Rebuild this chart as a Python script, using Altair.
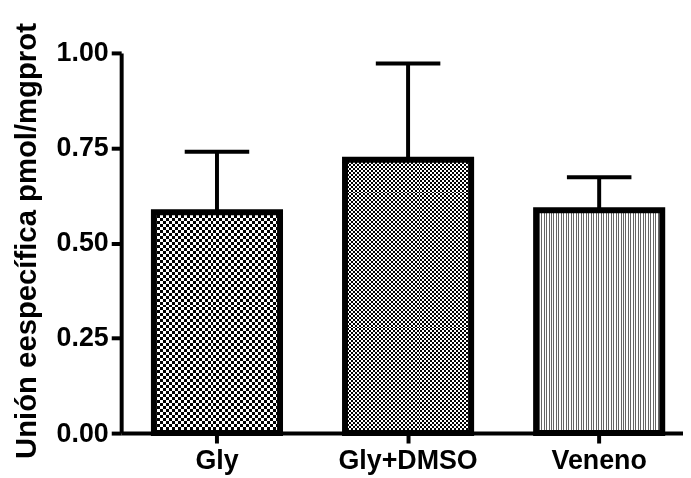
import altair as alt
import pandas as pd

categories = ["Gly", "Gly+DMSO", "Veneno"]
means = [0.581, 0.719, 0.586]
errors = [0.159, 0.253, 0.087]
y_ticks = [0.0, 0.25, 0.5, 0.75, 1.0]

df = pd.DataFrame({"cat": categories, "mean": means, "err": errors})
df["upper"] = df["mean"] + df["err"]

PLOT_W = 566
PLOT_H = 383
BAR_W = 127


def stripes(length_px, dark_px, light_px, dark, light, along):
    period = dark_px + light_px
    stops = []
    pos = 0.0
    while pos < length_px:
        a = pos / length_px
        b = min(pos + dark_px, length_px) / length_px
        c = min(pos + period, length_px) / length_px
        stops += [
            {"offset": a, "color": dark},
            {"offset": b, "color": dark},
            {"offset": b, "color": light},
            {"offset": c, "color": light},
        ]
        pos += period
    g = {"gradient": "linear", "stops": stops}
    if along == "x":
        g.update({"x1": 0, "x2": 1, "y1": 0, "y2": 0})
    else:
        g.update({"x1": 0, "x2": 0, "y1": 0, "y2": 1})
    return g


xenc = alt.X(
    "cat:N",
    sort=categories,
    scale=alt.Scale(paddingInner=0.34, paddingOuter=0.14, align=0.612),
    axis=alt.Axis(title=None, labelAngle=0, labelPadding=5),
)
yenc = alt.Y(
    "mean:Q",
    scale=alt.Scale(domain=[0, 1], nice=False),
    axis=alt.Axis(
        title="Unión eespecífica pmol/mgprot",
        values=y_ticks,
        format=".2f",
        labelPadding=3,
        titleFontSize=29.5,
        titleX=-95,
        titleY=189,
        titleBaseline="middle",
        titleAlign="center",
    ),
)

base = alt.Chart(df)

layers = []
# Gly: coarse checker
h_gly = means[0] * PLOT_H
layers.append(
    base.transform_filter(alt.datum.cat == "Gly")
    .mark_bar(fill=stripes(BAR_W, 3, 3, "#000000", "#ffffff", "x"), strokeWidth=0)
    .encode(x=xenc, y=yenc)
)
layers.append(
    base.transform_filter(alt.datum.cat == "Gly")
    .mark_bar(fill=stripes(h_gly, 3, 3, "#000000", "#ffffff", "y"), strokeWidth=0, blend="difference")
    .encode(x=xenc, y=yenc)
)
# Gly+DMSO: fine checker
h_dm = means[1] * PLOT_H
layers.append(
    base.transform_filter(alt.datum.cat == "Gly+DMSO")
    .mark_bar(fill=stripes(BAR_W, 2, 2, "#000000", "#ffffff", "x"), strokeWidth=0)
    .encode(x=xenc, y=yenc)
)
layers.append(
    base.transform_filter(alt.datum.cat == "Gly+DMSO")
    .mark_bar(fill=stripes(h_dm, 2, 2, "#000000", "#ffffff", "y"), strokeWidth=0, blend="difference")
    .encode(x=xenc, y=yenc)
)
# Veneno: vertical stripes
layers.append(
    base.transform_filter(alt.datum.cat == "Veneno")
    .mark_bar(fill=stripes(BAR_W, 1, 1.5, "#666666", "#ffffff", "x"), strokeWidth=0)
    .encode(x=xenc, y=yenc)
)
# outlines
layers.append(
    base.mark_bar(fillOpacity=0, stroke="black", strokeWidth=6)
    .encode(x=xenc, y=yenc)
)
# error bars
layers.append(
    base.mark_rule(color="black", strokeWidth=4)
    .encode(x=xenc, y=yenc, y2="upper:Q")
)
layers.append(
    base.mark_tick(color="black", size=65, thickness=4, opacity=1)
    .encode(x=xenc, y=alt.Y("upper:Q"))
)

chart = (
    alt.layer(*layers)
    .properties(
        width=PLOT_W,
        height=PLOT_H,
        autosize=alt.AutoSizeParams(type="none"),
        padding={"left": 114, "top": 43.5, "right": 0, "bottom": 43.5},
    )
    .configure_view(stroke=None)
    .configure_axis(
        grid=False,
        domainColor="black",
        domainWidth=4,
        tickColor="black",
        tickWidth=4,
        tickSize=10,
        labelFont="Liberation Sans",
        labelFontWeight="bold",
        labelFontSize=27,
        labelColor="black",
        titleFont="Liberation Sans",
        titleFontWeight="bold",
        titleColor="black",
    )
)

chart.save("out.html", embed_options={"renderer": "svg", "actions": False})
